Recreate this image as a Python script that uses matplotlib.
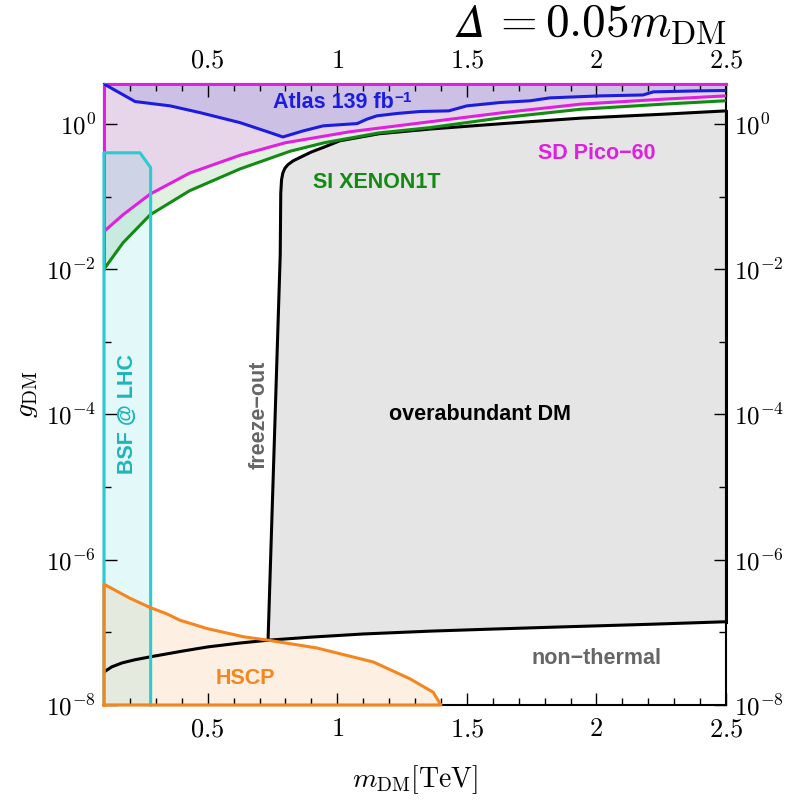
import numpy as np
import matplotlib.pyplot as plt
from matplotlib.ticker import FixedLocator, FixedFormatter

plt.rcParams['mathtext.fontset'] = 'cm'
plt.rcParams['font.family'] = ['DejaVu Serif']

# plot range
M_MIN, M_MAX = 0.1, 2.5
G_MIN, G_TOP = 1e-8, 3.54

# Atlas 139 fb^-1 bound
atlas_m = [0.1, 0.22, 0.355, 0.47, 0.625, 0.74, 0.79, 0.868, 0.946, 1.077, 1.114, 1.153,
           1.23, 1.32, 1.43, 1.50, 1.63, 1.745, 1.82, 2.015, 2.18, 2.22, 2.40, 2.5]
atlas_g = [3.54, 2.03, 1.77, 1.43, 1.04, 0.76, 0.66, 0.80, 0.94, 1.01, 1.16, 1.29,
           1.39, 1.48, 1.51, 1.77, 1.97, 2.08, 2.28, 2.43, 2.50, 2.76, 2.85, 2.88]

# SD Pico-60 bound
pico_m = [0.1, 0.173, 0.278, 0.43, 0.625, 0.80, 1.05, 1.34, 1.64, 1.94, 2.26, 2.5]
pico_g = [0.033, 0.056, 0.108, 0.21, 0.37, 0.55, 0.78, 1.05, 1.43, 1.87, 2.19, 2.43]

# SI XENON1T bound
xenon_m = [0.1, 0.173, 0.278, 0.43, 0.625, 0.818, 0.95, 1.16, 1.36, 1.64, 1.94, 2.26, 2.5]
xenon_g = [0.010, 0.023, 0.056, 0.12, 0.24, 0.42, 0.55, 0.75, 0.89, 1.22, 1.59, 1.87, 2.08]

# freeze-out line and upper edge of the overabundant region
fo_m = [0.733, 0.780, 0.782, 0.785, 0.790, 0.798, 0.81, 0.83, 0.86, 0.90, 0.95, 1.01,
        1.16, 1.36, 1.64, 1.94, 2.26, 2.5]
fo_g = [7.8e-8, 0.016, 0.11, 0.17, 0.21, 0.245, 0.275, 0.31, 0.35, 0.41, 0.48, 0.585,
        0.73, 0.85, 1.01, 1.20, 1.36, 1.51]

# non-thermal boundary
nt_m = [0.1, 0.13, 0.17, 0.22, 0.278, 0.4, 0.5, 0.62, 0.733, 0.9, 1.1, 1.36, 1.6, 1.87, 2.2, 2.5]
nt_g = [2.85e-8, 3.35e-8, 3.8e-8, 4.2e-8, 4.6e-8, 5.5e-8, 6.3e-8, 7.1e-8, 7.8e-8, 8.6e-8,
        9.5e-8, 1.04e-7, 1.11e-7, 1.19e-7, 1.29e-7, 1.40e-7]

# bound-state formation at LHC
bsf_m = [0.1, 0.1, 0.239, 0.28, 0.28]
bsf_g = [1e-8, 0.40, 0.40, 0.25, 1e-8]

# HSCP searches
hscp_m = [0.1, 0.1, 0.2, 0.278, 0.342, 0.393, 0.497, 0.638, 0.733, 0.921, 1.14, 1.28, 1.37, 1.40]
hscp_g = [1e-8, 4.6e-7, 2.95e-7, 2.2e-7, 1.8e-7, 1.47e-7, 1.13e-7, 8.7e-8, 7.8e-8, 6.1e-8,
          3.9e-8, 2.3e-8, 1.5e-8, 1e-8]

xticks = [0.5, 1.0, 1.5, 2.0, 2.5]
xtick_labels = ['$0.5$', '$1$', '$1.5$', '$2$', '$2.5$']
yticks = [1e-8, 1e-6, 1e-4, 1e-2, 1e0]
ytick_labels = ['$10^{-8}$', '$10^{-6}$', '$10^{-4}$', '$10^{-2}$', '$10^{0}$']

c_blue = '#1c1ce0'
c_mag = '#e020e0'
c_green = '#138a13'
c_cyan = '#2ccad2'
c_orange = '#f5861f'
c_gray = '#666666'

sans = ['Liberation Sans', 'DejaVu Sans']

fig = plt.figure(figsize=(7.86, 8.0), dpi=100)
ax = fig.add_axes([104/786, 1 - 705/800, 622/786, 621/800])
ax.set_yscale('log')
ax.set_xlim(M_MIN, M_MAX)
ax.set_ylim(G_MIN, G_TOP)

# excluded bands, stacked from bottom to top
ax.fill_between(xenon_m, xenon_g, G_TOP, color='#e1f0e1', lw=0, zorder=1)
ax.fill_between(pico_m, pico_g, G_TOP, color='#e7d6e9', lw=0, zorder=1.1)
ax.fill_between(atlas_m, atlas_g, G_TOP, color='#ccc1e5', lw=0, zorder=1.2)

# overabundant region: freeze-out line, right edge, non-thermal line
nt_right = [(m, g) for m, g in zip(nt_m, nt_g) if m >= fo_m[0]]
over_m = fo_m + [m for m, g in nt_right[::-1]]
over_g = fo_g + [g for m, g in nt_right[::-1]]
ax.fill(over_m, over_g, color='#e5e5e5', lw=0, zorder=1)

ax.fill(bsf_m, bsf_g, color=c_cyan, alpha=0.13, lw=0, zorder=1.3)
ax.fill(hscp_m, hscp_g, color=c_orange, alpha=0.12, lw=0, zorder=1.3)

lw = 2.2
ax.plot(nt_m, nt_g, color='black', lw=lw, zorder=3)
ax.plot(fo_m, fo_g, color='black', lw=lw, zorder=3)
ax.plot([M_MAX, M_MAX], [nt_g[-1], fo_g[-1]], color='black', lw=lw, zorder=3, clip_on=False)
ax.plot(xenon_m, xenon_g, color=c_green, lw=lw, zorder=3.1)
ax.plot([M_MIN, M_MIN], [xenon_g[0], pico_g[0]], color=c_green, lw=lw, zorder=3.1, clip_on=False)
ax.plot(pico_m, pico_g, color=c_mag, lw=lw, zorder=3.2)
ax.plot([M_MIN, M_MIN, M_MAX], [pico_g[0], G_TOP, G_TOP], color=c_mag, lw=lw, zorder=3.2, clip_on=False)
ax.plot(atlas_m, atlas_g, color=c_blue, lw=lw, zorder=3.3)
ax.plot(bsf_m, bsf_g, color=c_cyan, lw=lw, zorder=3.4, clip_on=False)
ax.plot(hscp_m + [hscp_m[0]], hscp_g + [hscp_g[0]], color=c_orange, lw=lw, zorder=3.5, clip_on=False)

for s in ax.spines.values():
    s.set_linewidth(1.5)

# ticks on all four sides
ax.xaxis.set_major_locator(FixedLocator(xticks))
ax.xaxis.set_major_formatter(FixedFormatter(xtick_labels))
ax.xaxis.set_minor_locator(FixedLocator(np.arange(2, 25) / 10))
ax.yaxis.set_major_locator(FixedLocator(yticks))
ax.yaxis.set_major_formatter(FixedFormatter(ytick_labels))
ax.yaxis.set_minor_locator(FixedLocator([1e-7, 1e-5, 1e-3, 1e-1]))
ax.yaxis.set_minor_formatter(FixedFormatter(['', '', '', '']))
ax.tick_params(which='both', direction='in', top=True, right=True,
               labeltop=True, labelright=True, width=1)
ax.tick_params(which='major', length=9)
ax.tick_params(which='minor', length=5)
ax.tick_params(axis='x', labelsize=19, pad=8)
ax.tick_params(axis='y', labelsize=18, pad=6)

ax.set_xlabel(r'$m_{\rm DM}[{\rm TeV}]$', fontsize=20, labelpad=16)
ax.set_ylabel(r'$g_{\rm DM}$', fontsize=20, labelpad=4)

# title: math part, then an italic Delta in front of it
t_title = fig.text(727/786, 1 - 37/800, r'$= 0.05 m_{\rm DM}$', fontsize=34,
                   ha='right', va='baseline')

bold = dict(family=sans, weight='bold', fontsize=15.5, ha='center', va='center', zorder=5)
t_atlas = ax.text(0.985, 1.95, 'Atlas 139 fb', color=c_blue, **bold)
ax.text(2.0, 0.385, 'SD Pico\u221260', color=c_mag, **bold)
ax.text(1.154, 0.158, 'SI XENON1T', color=c_green, **bold)
ax.text(1.552, 1e-4, 'overabundant DM', color='black', **bold)
ax.text(0.698, 1e-4, 'freeze\u2212out', color=c_gray, rotation=90, **bold)
ax.text(0.189, 1e-4, 'BSF @ LHC', color='#20b4b8', rotation=90, **bold)
ax.text(2.0, 4.4e-8, 'non\u2212thermal', color=c_gray, **bold)
ax.text(0.644, 2.3e-8, 'HSCP', color=c_orange, **bold)

fig.canvas.draw()
# superscript -1 after "fb"
bb = t_atlas.get_window_extent()
fig.text(bb.x1 + 1, bb.y1 + 1, '\u22121', transform=None, family=sans, weight='bold',
         fontsize=11, color=c_blue, ha='left', va='top', zorder=5)
tb = t_title.get_window_extent()
fig.text(tb.x0 - 7, 800 - 37, '\u0394', transform=None, family='STIXGeneral',
         style='italic', fontsize=34, ha='right', va='baseline')

plt.savefig('out.png', dpi=100)
